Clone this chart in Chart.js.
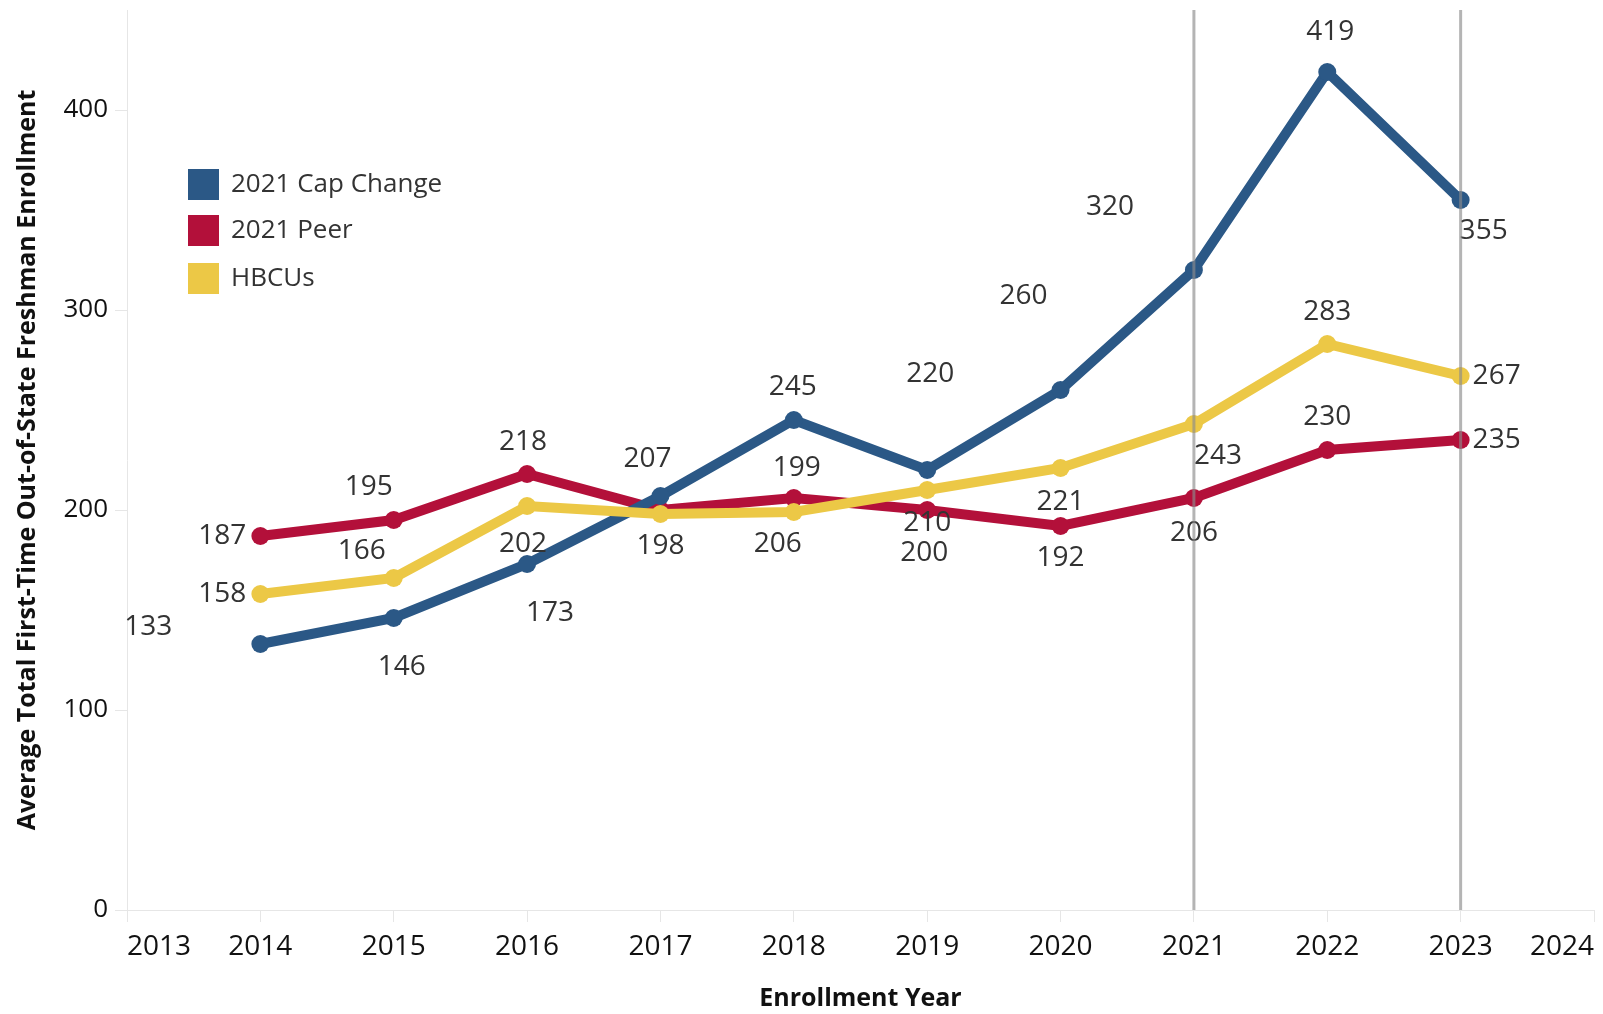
<!DOCTYPE html>
<html>
<head>
<meta charset="utf-8">
<script src="https://cdn.jsdelivr.net/npm/chart.js@4.4.1/dist/chart.umd.min.js"></script>
<style>
  html, body { margin: 0; padding: 0; background: #fff; }
  #chart { display: block; }
</style>
</head>
<body>
<canvas id="chart" width="1603" height="1014"></canvas>
<script>
const years = [2014, 2015, 2016, 2017, 2018, 2019, 2020, 2021, 2022, 2023];
const capChange = [133, 146, 173, 207, 245, 220, 260, 320, 419, 355];
const peer = [187, 195, 218, 200, 206, 200, 192, 206, 230, 235];
const hbcus = [158, 166, 202, 198, 199, 210, 221, 243, 283, 267];
const refYears = [2021, 2023];
const yTicks = [0, 100, 200, 300, 400];

// where each value label sits relative to its point, in px (null = no label shown)
const capLabelPos = [[-112, -17], [8, 49], [23, 49], [-13, -37], [-1, -33], [3, -96], [-37, -94], [-84, -63], [3, -40], [23, 31]];
const peerLabelPos = [[-38, 0], [-25, -33], [-4, -32], null, [-16, 46], [-3, 43], [0, 32], [0, 35], [0, -33], [36, 0]];
const hbcuLabelPos = [[-38, 0], [-32, -27], [-4, 38], [0, 32], [3, -44], [0, 33], [0, 34], [24, 32], [0, -32], [36, 0]];

const FONT = '"Open Sans", "Noto Sans", sans-serif';

const toPoints = (vals) => years.map((x, i) => ({ x: x, y: vals[i] }));

const makeSeries = (label, vals, color, labelPos, order) => ({
  label: label,
  data: toPoints(vals),
  borderColor: color,
  backgroundColor: color,
  pointBackgroundColor: color,
  pointBorderWidth: 0,
  pointRadius: 9,
  pointHoverRadius: 9,
  borderWidth: 10,
  tension: 0,
  fill: false,
  order: order,
  labelPos: labelPos,
});

// value labels first, then the grey reference lines over them
const labelsAndRefs = {
  id: 'labelsAndRefs',
  afterDatasetsDraw(chart) {
    const ctx = chart.ctx;
    ctx.save();
    ctx.font = '28px ' + FONT;
    ctx.fillStyle = '#333333';
    ctx.textAlign = 'center';
    ctx.textBaseline = 'middle';
    chart.data.datasets.forEach((ds, i) => {
      const meta = chart.getDatasetMeta(i);
      meta.data.forEach((pt, j) => {
        const pos = ds.labelPos[j];
        if (!pos) return;
        ctx.fillText(String(ds.data[j].y), pt.x + pos[0], pt.y + pos[1]);
      });
    });

    const xs = chart.scales.x;
    const area = chart.chartArea;
    ctx.strokeStyle = 'rgba(140, 140, 140, 0.65)';
    ctx.lineWidth = 3;
    refYears.forEach((yr) => {
      const px = xs.getPixelForValue(yr);
      ctx.beginPath();
      ctx.moveTo(px, area.top);
      ctx.lineTo(px, area.bottom);
      ctx.stroke();
    });
    ctx.restore();
  }
};

const boxLegend = {
  id: 'boxLegend',
  afterDraw(chart) {
    const ctx = chart.ctx;
    ctx.save();
    ctx.font = '26px ' + FONT;
    ctx.textBaseline = 'middle';
    ctx.textAlign = 'left';
    const rows = [184, 230, 278];
    chart.data.datasets.forEach((ds, i) => {
      ctx.fillStyle = ds.borderColor;
      ctx.fillRect(188, rows[i] - 15, 31, 31);
      ctx.fillStyle = '#333333';
      ctx.fillText(ds.label, 231, rows[i] + 1);
    });
    ctx.restore();
  }
};

const axisGrey = '#e6e6e6';

new Chart(document.getElementById('chart'), {
  type: 'line',
  data: {
    datasets: [
      makeSeries('2021 Cap Change', capChange, '#2b5886', capLabelPos, 2),
      makeSeries('2021 Peer', peer, '#b3103a', peerLabelPos, 3),
      makeSeries('HBCUs', hbcus, '#ecc846', hbcuLabelPos, 1),
    ],
  },
  options: {
    responsive: false,
    animation: false,
    layout: { padding: { top: 10, right: 5, left: 0, bottom: 0 } },
    plugins: {
      legend: { display: false },
      tooltip: { enabled: false },
    },
    scales: {
      x: {
        type: 'linear',
        min: 2013,
        max: 2024,
        afterFit(scale) {
          scale.height = 104;
          scale.paddingLeft = 0;
          scale.paddingRight = 0;
        },
        ticks: {
          stepSize: 1,
          autoSkip: false,
          maxRotation: 0,
          align: 'inner',
          padding: 8,
          color: '#111111',
          font: { family: FONT, size: 28 },
          callback: (v) => String(v),
        },
        grid: { drawOnChartArea: false, color: axisGrey, tickLength: 12 },
        border: { color: axisGrey },
        title: {
          display: true,
          text: 'Enrollment Year',
          color: '#111111',
          font: { family: FONT, size: 25, weight: 'bold' },
          padding: { top: 0, bottom: 0 },
        },
      },
      y: {
        min: 0,
        max: 450,
        afterBuildTicks(scale) {
          scale.ticks = yTicks.map((v) => ({ value: v }));
        },
        afterFit(scale) {
          scale.width = 127;
          scale.paddingTop = 0;
          scale.paddingBottom = 0;
        },
        ticks: {
          padding: 7,
          color: '#111111',
          font: { family: FONT, size: 26 },
        },
        grid: { drawOnChartArea: false, color: axisGrey, tickLength: 12 },
        border: { color: axisGrey },
        title: {
          display: true,
          text: 'Average Total First-Time Out-of-State Freshman Enrollment',
          color: '#111111',
          font: { family: FONT, size: 25, weight: 'bold' },
          padding: { top: 13, bottom: 0 },
        },
      },
    },
  },
  plugins: [labelsAndRefs, boxLegend],
});
</script>
</body>
</html>
